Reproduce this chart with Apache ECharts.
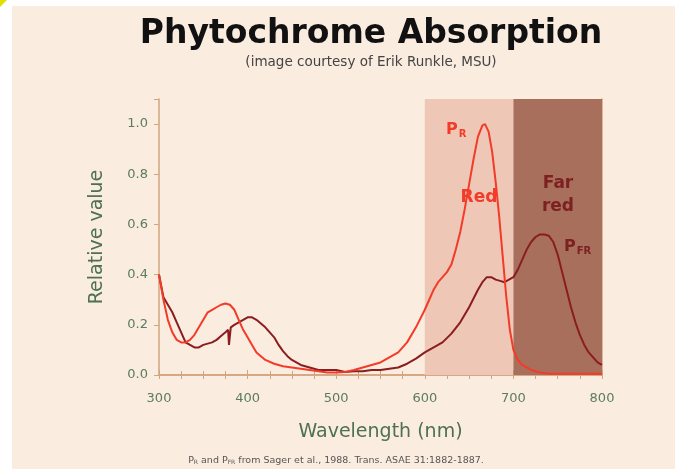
<!DOCTYPE html>
<html>
<head>
<meta charset="utf-8">
<script src="https://cdn.jsdelivr.net/npm/echarts@6/dist/echarts.min.js"></script>
<style>
  html, body { margin: 0; padding: 0; background: #ffffff; }
  #chart { width: 675px; height: 469px; }
</style>
</head>
<body>
<div id="chart"></div>
<script>
// wavelength (nm) / relative absorption
const prWave = [300, 305, 310, 315, 320, 325, 330, 335, 340, 345, 350, 355, 360, 365, 370, 375, 380, 385, 390, 395,
  400, 405, 410, 415, 420, 430, 440, 450, 460, 470, 480, 490, 500, 510, 520, 530, 540, 550, 560, 570, 580, 590,
  600, 605, 610, 615, 620, 625, 630, 635, 640, 645, 650, 655, 660, 665, 668, 672, 676, 680, 684, 688, 692, 696,
  700, 705, 710, 720, 730, 740, 760, 800]
const prValue = [0.40, 0.30, 0.22, 0.17, 0.14, 0.13, 0.13, 0.14, 0.16, 0.19, 0.22, 0.25, 0.26, 0.27, 0.28, 0.285, 0.28, 0.26, 0.22, 0.18,
  0.15, 0.12, 0.09, 0.075, 0.06, 0.045, 0.035, 0.03, 0.025, 0.02, 0.015, 0.01, 0.01, 0.012, 0.02, 0.03, 0.04, 0.05, 0.07, 0.09, 0.13, 0.19,
  0.26, 0.30, 0.34, 0.37, 0.39, 0.41, 0.44, 0.50, 0.57, 0.66, 0.76, 0.86, 0.95, 0.995, 1.0, 0.97, 0.89, 0.77, 0.63, 0.47, 0.31, 0.18,
  0.10, 0.06, 0.04, 0.02, 0.01, 0.005, 0.005, 0.005]

const pfrWave = [300, 305, 310, 315, 320, 325, 330, 335, 340, 345, 350, 355, 360, 365, 370, 375, 378, 379, 381, 385, 390, 395,
  400, 405, 410, 415, 420, 425, 430, 435, 440, 445, 450, 460, 470, 480, 490, 500, 510, 520, 530, 540, 550, 560, 570, 580, 590,
  600, 610, 620, 630, 640, 650, 660, 665, 670, 675, 680, 685, 690, 695, 700, 705, 710, 715, 720, 725, 730, 735, 740, 745,
  750, 755, 760, 765, 770, 775, 780, 785, 790, 795, 800]
const pfrValue = [0.40, 0.31, 0.28, 0.25, 0.21, 0.17, 0.13, 0.12, 0.11, 0.11, 0.12, 0.125, 0.13, 0.14, 0.155, 0.17, 0.18, 0.12, 0.19, 0.20, 0.21, 0.22,
  0.23, 0.23, 0.22, 0.205, 0.19, 0.17, 0.15, 0.12, 0.095, 0.075, 0.06, 0.04, 0.03, 0.02, 0.02, 0.02, 0.012, 0.015, 0.015, 0.02, 0.02, 0.025, 0.03, 0.045, 0.065,
  0.09, 0.11, 0.13, 0.165, 0.21, 0.27, 0.34, 0.37, 0.39, 0.39, 0.38, 0.375, 0.37, 0.38, 0.39, 0.42, 0.46, 0.50, 0.53, 0.55, 0.56, 0.56, 0.555, 0.53,
  0.48, 0.41, 0.34, 0.27, 0.21, 0.16, 0.12, 0.09, 0.07, 0.05, 0.04]

// light bands
const bandNames = ['Red', 'Far red']
const bandRanges = [[600, 700], [700, 800]]

const axisColor = '#d3a47e'
const labelColor = '#5b7d5b'
const font = '"DejaVu Sans"'

function pairs (xs, ys) {
  return xs.map(function (x, i) { return [x, ys[i]] })
}

const myChart = echarts.init(document.getElementById('chart'))
const option = {
  backgroundColor: '#ffffff',
  animation: false,
  grid: { left: 159, right: 73, top: 99, bottom: 94 },
  xAxis: [
    {
      type: 'value', min: 300, max: 800, interval: 100, position: 'bottom',
      axisLine: { show: true, lineStyle: { color: axisColor, width: 1.5 } },
      axisTick: { show: true, inside: true, length: 5, lineStyle: { color: axisColor } },
      minorTick: { show: true, splitNumber: 4, length: 4, lineStyle: { color: axisColor } },
      splitLine: { show: false },
      axisLabel: { color: labelColor, fontSize: 13, fontFamily: font, margin: 17 },
      name: 'Wavelength (nm)', nameLocation: 'middle', nameGap: 48,
      nameTextStyle: { color: '#4d7150', fontSize: 19, fontFamily: font }
    },
    {
      type: 'value', min: 300, max: 800, interval: 100, position: 'top',
      axisLine: { show: true, lineStyle: { color: axisColor, width: 1.5 } },
      axisTick: { show: true, inside: true, length: 4, lineStyle: { color: axisColor } },
      minorTick: { show: true, splitNumber: 4, length: 4, lineStyle: { color: axisColor } },
      splitLine: { show: false },
      axisLabel: { show: false }
    }
  ],
  yAxis: [
    {
      type: 'value', min: 0, max: 1.1, interval: 0.2, position: 'left',
      axisLine: { show: true, lineStyle: { color: axisColor, width: 1.5 } },
      axisTick: { show: true, length: 5, lineStyle: { color: axisColor } },
      splitLine: { show: false },
      axisLabel: {
        color: labelColor, fontSize: 13, fontFamily: font, margin: 11,
        formatter: function (v) { return v > 1.01 ? '' : v.toFixed(1) }
      },
      name: 'Relative value', nameLocation: 'middle', nameGap: 52, nameRotate: 90,
      nameTextStyle: { color: '#4d7150', fontSize: 19, fontFamily: font }
    },
    {
      type: 'value', min: 0, max: 1.1, interval: 0.2, position: 'right',
      axisLine: { show: true, lineStyle: { color: axisColor, width: 1.5 } },
      axisTick: { show: true, inside: true, length: 4, lineStyle: { color: axisColor } },
      splitLine: { show: false },
      axisLabel: { show: false }
    }
  ],
  series: [
    {
      name: 'PR',
      type: 'line',
      data: pairs(prWave, prValue),
      showSymbol: false,
      lineStyle: { color: '#f23b28', width: 2 },
      z: 3,
      markArea: {
        silent: true,
        data: [
          [{ name: bandNames[0], xAxis: bandRanges[0][0], itemStyle: { color: '#efc7b6' } }, { xAxis: bandRanges[0][1] }],
          [{ name: bandNames[1], xAxis: bandRanges[1][0], itemStyle: { color: '#a86f5d' } }, { xAxis: bandRanges[1][1] }]
        ],
        label: { show: false }
      }
    },
    {
      name: 'PFR',
      type: 'line',
      data: pairs(pfrWave, pfrValue),
      showSymbol: false,
      lineStyle: { color: '#8a1d1f', width: 2 },
      z: 2
    }
  ],
  graphic: [
    { type: 'rect', shape: { x: 12, y: 6, width: 663, height: 463 }, style: { fill: '#fbece0' }, z: -10, silent: true },
    { type: 'polygon', shape: { points: [[0, 0], [7, 0], [0, 7]] }, style: { fill: '#e3e000' }, z: -9, silent: true },
    {
      type: 'text', x: 371, y: 34, z: 100,
      style: { text: 'Phytochrome Absorption', font: 'bold 33px ' + font, fill: '#111111', align: 'center', verticalAlign: 'middle' }
    },
    {
      type: 'text', x: 371, y: 62, z: 100,
      style: { text: '(image courtesy of Erik Runkle, MSU)', font: '13.5px ' + font, fill: '#444444', align: 'center', verticalAlign: 'middle' }
    },
    {
      type: 'text', x: 446, y: 130, z: 100,
      style: {
        text: '{p|P}{s|R}',
        rich: {
          p: { font: 'bold 16px ' + font, fill: '#f23b28' },
          s: { font: 'bold 10px ' + font, fill: '#f23b28', padding: [8, 0, 0, 1] }
        },
        verticalAlign: 'middle'
      }
    },
    {
      type: 'text', x: 479, y: 198, z: 100,
      style: { text: 'Red', font: 'bold 17px ' + font, fill: '#f23b28', align: 'center', verticalAlign: 'middle' }
    },
    {
      type: 'text', x: 558, y: 195, z: 100,
      style: { text: 'Far\nred', font: 'bold 17px ' + font, lineHeight: 23, fill: '#7c2020', align: 'center', verticalAlign: 'middle' }
    },
    {
      type: 'text', x: 564, y: 247, z: 100,
      style: {
        text: '{p|P}{s|FR}',
        rich: {
          p: { font: 'bold 16px ' + font, fill: '#7c2020' },
          s: { font: 'bold 10px ' + font, fill: '#7c2020', padding: [8, 0, 0, 1] }
        },
        verticalAlign: 'middle'
      }
    },
    {
      type: 'text', x: 336, y: 461, z: 100,
      style: {
        text: '{t|P}{s|R}{t| and P}{s|FR}{t| from Sager et al., 1988. Trans. ASAE 31:1882-1887.}',
        rich: {
          t: { font: '9.5px ' + font, fill: '#555555' },
          s: { font: '6px ' + font, fill: '#555555', padding: [3, 0, 0, 0] }
        },
        align: 'center', verticalAlign: 'middle'
      }
    }
  ]
}
myChart.setOption(option)
</script>
</body>
</html>
